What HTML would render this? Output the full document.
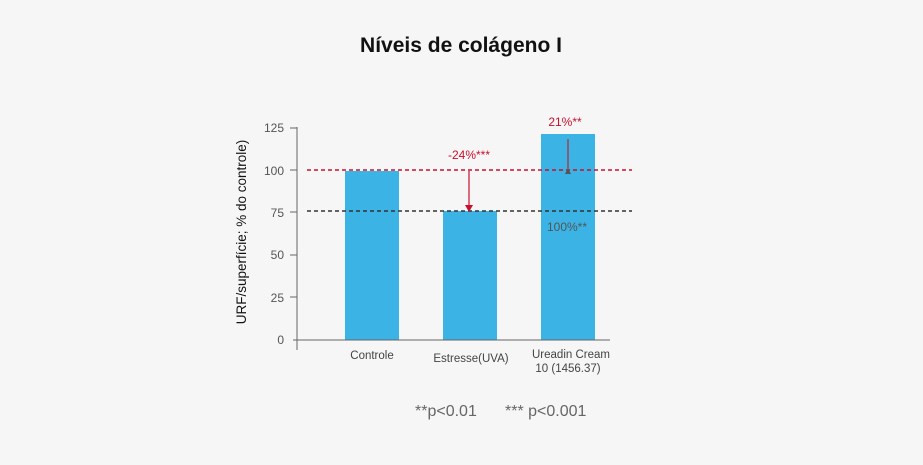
<!DOCTYPE html>
<html><head><style>
body{margin:0;background:#f6f6f6;}
svg{display:block;font-family:"Liberation Sans",sans-serif;}
</style></head><body>
<svg width="923" height="465" viewBox="0 0 923 465">
<rect width="923" height="465" fill="#f6f6f6"/>
<text x="461" y="52" text-anchor="middle" font-size="21" font-weight="bold" fill="#111">Níveis de colágeno I</text>
<g fill="#3bb3e5">
<rect x="345" y="171" width="54" height="169"/>
<rect x="443" y="211" width="54" height="129"/>
<rect x="541" y="134" width="54" height="206"/>
</g>
<line x1="297" y1="127" x2="297" y2="350" stroke="#666" stroke-width="1"/>
<line x1="293" y1="340" x2="610" y2="340" stroke="#666" stroke-width="1"/>
<g stroke="#666"><line x1="290" y1="128" x2="297" y2="128"/><line x1="290" y1="170" x2="297" y2="170"/><line x1="290" y1="212" x2="297" y2="212"/><line x1="290" y1="255" x2="297" y2="255"/><line x1="290" y1="297" x2="297" y2="297"/></g>
<g font-size="12" fill="#555" text-anchor="end">
<text x="284" y="132">125</text><text x="284" y="175">100</text><text x="284" y="217">75</text><text x="284" y="259">50</text><text x="284" y="302">25</text><text x="284" y="344">0</text>
</g>
<line x1="307" y1="170" x2="632" y2="170" stroke="#c8102e" stroke-width="1.5" stroke-dasharray="4,3"/>
<line x1="307" y1="211" x2="632" y2="211" stroke="#333" stroke-width="1.5" stroke-dasharray="4,3"/>
<line x1="469" y1="171" x2="469" y2="206" stroke="#c8102e" stroke-width="1.2"/>
<polygon points="465,205 473,205 469,212" fill="#c8102e"/>
<line x1="568" y1="139" x2="568" y2="170" stroke="#b0283a" stroke-width="1.2"/>
<polygon points="565,174 571,174 568,168" fill="#555"/>
<text x="469" y="159" text-anchor="middle" font-size="12" fill="#c8102e">-24%***</text>
<text x="565" y="126" text-anchor="middle" font-size="12" fill="#c8102e">21%**</text>
<text x="567" y="231" text-anchor="middle" font-size="12" fill="#555">100%**</text>
<g font-size="11.5" fill="#444" text-anchor="middle">
<text x="372" y="359">Controle</text>
<text x="471" y="362">Estresse(UVA)</text>
<text x="571" y="358">Ureadin Cream</text>
<text x="568" y="372">10 (1456.37)</text>
</g>
<text transform="translate(246,232) rotate(-90)" text-anchor="middle" font-size="13.5" fill="#111">URF/superfície; % do controle)</text>
<text x="415" y="416" font-size="16" fill="#666">**p&lt;0.01</text>
<text x="505" y="416" font-size="16" fill="#666">*** p&lt;0.001</text>
</svg>
</body></html>
